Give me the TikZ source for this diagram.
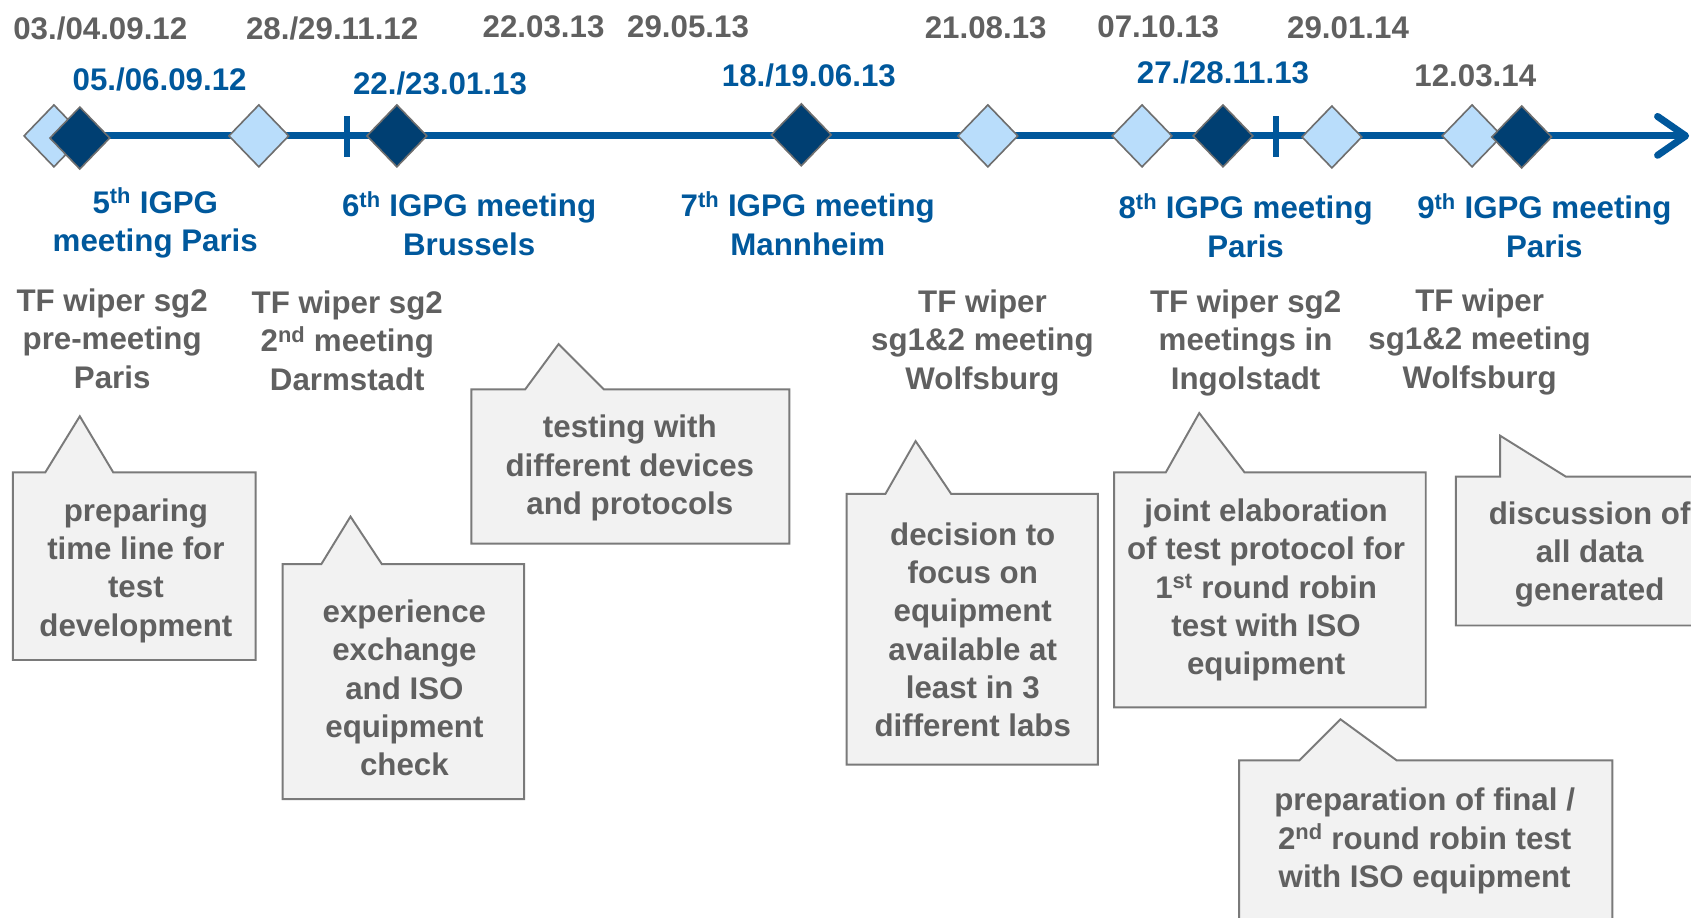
\documentclass[tikz,border=0pt]{standalone}
\usepackage{fontspec}
\setmainfont{Liberation Sans}
\usetikzlibrary{shapes.geometric,calc}

\definecolor{tlblue}{HTML}{00579B}
\definecolor{txtblue}{HTML}{00589C}
\definecolor{txtgray}{HTML}{606060}
\definecolor{darkdia}{HTML}{003F72}
\definecolor{lightdia}{HTML}{B9DDFB}
\definecolor{diaborder}{HTML}{6E6E6E}
\definecolor{bubfill}{HTML}{F2F2F2}
\definecolor{bubborder}{HTML}{7A7A7A}

\tikzset{
  txt/.style={font=\fontsize{29}{35.5}\selectfont\bfseries, align=center, inner sep=0pt, yshift=-2pt},
  graytxt/.style={txt, text=txtgray},
  bluetxt/.style={txt, text=txtblue},
  diabase/.style={diamond, draw=diaborder, line width=1.5pt, minimum width=56pt, minimum height=58pt, inner sep=0pt},
  ldia/.style={diabase, fill=lightdia},
  ddia/.style={diabase, fill=darkdia},
  timeline/.style={draw=tlblue, line width=6.5pt},
  tickmark/.style={draw=tlblue, line width=6pt},
  bubble/.style={draw=bubborder, fill=bubfill, line width=1.8pt, line join=miter},
}

\begin{document}
\begin{tikzpicture}[x=1pt, y=-1pt]
\useasboundingbox (0,0) rectangle (1568,851);
\clip (0,0) rectangle (1568,851);

% ---- time axis ----
\coordinate (tlstart) at (25,126);
\coordinate (tlend) at (1563,126);
\draw[timeline] (tlstart) -- (tlend);
\draw[timeline, line cap=round, line join=round]
  ($(tlend)+(-26,-18)$) -- (tlend) -- ($(tlend)+(-26,18)$);

\coordinate (ta1) at (322,108); \coordinate (tb1) at (322,146);
\coordinate (ta2) at (1183,108); \coordinate (tb2) at (1183,146);
\draw[tickmark] (ta1) -- (tb1);
\draw[tickmark] (ta2) -- (tb2);

% ---- milestones ----
\node[ldia] (m1) at (50,126) {};
\node[ddia] (m2) at (74,128) {};
\node[ldia] (m3) at (240,126) {};
\node[ddia] (m4) at (368,126) {};
\node[ddia] (m5) at (743,125) {};
\node[ldia] (m6) at (916,126) {};
\node[ldia] (m7) at (1059,126) {};
\node[ddia] (m8) at (1134,126) {};
\node[ldia] (m9) at (1235,127) {};
\node[ldia] (m10) at (1365,126) {};
\node[ddia] (m11) at (1411,127) {};

% ---- dates ----
\node[graytxt] (dt1) at (93,24) {03./04.09.12};
\node[graytxt] (dt2) at (308,24) {28./29.11.12};
\node[graytxt] (dt3) at (504,23) {22.03.13};
\node[graytxt] (dt4) at (638,23) {29.05.13};
\node[graytxt] (dt5) at (914,24) {21.08.13};
\node[graytxt] (dt6) at (1074,23) {07.10.13};
\node[graytxt] (dt7) at (1250,24) {29.01.14};

\node[bluetxt] (db1) at (148,72) {05./06.09.12};
\node[bluetxt] (db2) at (408,75) {22./23.01.13};
\node[bluetxt] (db3) at (750,68) {18./19.06.13};
\node[bluetxt] (db4) at (1134,65) {27./28.11.13};
\node[graytxt] (db5) at (1368,68) {12.03.14};

% ---- meetings ----
\node[bluetxt] (g5) at (144,205) {5\textsuperscript{th} IGPG\\meeting Paris};
\node[bluetxt] (g6) at (435,205) {6\textsuperscript{th} IGPG meeting\\Brussels};
\node[bluetxt] (g7) at (749,205) {7\textsuperscript{th} IGPG meeting\\Mannheim};
\node[bluetxt] (g8) at (1155,207) {8\textsuperscript{th} IGPG meeting\\Paris};
\node[bluetxt] (g9) at (1432,207) {9\textsuperscript{th} IGPG meeting\\Paris};

\node[graytxt] (w1) at (104,312) {TF wiper sg2\\pre-meeting\\Paris};
\node[graytxt] (w2) at (322,314) {TF wiper sg2\\2\textsuperscript{nd} meeting\\Darmstadt};
\node[graytxt] (w3) at (911,316) {TF wiper\\sg1\&2 meeting\\Wolfsburg};
\node[graytxt] (w4) at (1155,316) {TF wiper sg2\\meetings in\\Ingolstadt};
\node[graytxt] (w5) at (1372,315) {TF wiper\\sg1\&2 meeting\\Wolfsburg};

% ---- callouts ----
\path[bubble] (12,438) -- (42,438) -- (74,386) -- (105,438) -- (237,438)
  -- (237,612) -- (12,612) -- cycle;
\node[graytxt] (c1) at (126,527) {preparing\\time line for\\test\\development};

\path[bubble] (262,523) -- (298,523) -- (325,479) -- (354,523) -- (486,523)
  -- (486,741) -- (262,741) -- cycle;
\node[graytxt] (c2) at (375,636) {experience\\exchange\\and ISO\\equipment\\check};

\path[bubble] (437,361) -- (487,361) -- (518,319) -- (560,361) -- (732,361)
  -- (732,504) -- (437,504) -- cycle;
\node[graytxt] (c3) at (584,432) {testing with\\different devices\\and protocols};

\path[bubble] (785,458) -- (821,458) -- (849,409) -- (882,458) -- (1018,458)
  -- (1018,709) -- (785,709) -- cycle;
\node[graytxt] (c4) at (902,582) {decision to\\focus on\\equipment\\available at\\least in 3\\different labs};

\path[bubble] (1033,438) -- (1081,438) -- (1112,383) -- (1154,438) -- (1322,438)
  -- (1322,656) -- (1033,656) -- cycle;
\node[graytxt] (c5) at (1174,545) {joint elaboration\\of test protocol for\\1\textsuperscript{st} round robin\\test with ISO\\equipment};

\path[bubble] (1350,442) -- (1391,442) -- (1391,404) -- (1452,442) -- (1600,442)
  -- (1600,580) -- (1350,580) -- cycle;
\node[graytxt] (c6) at (1474,512) {discussion of\\all data\\generated};

\path[bubble] (1149,705) -- (1205,705) -- (1243,667) -- (1295,705) -- (1495,705)
  -- (1495,880) -- (1149,880) -- cycle;
\node[graytxt] (c7) at (1321,778) {preparation of final /\\2\textsuperscript{nd} round robin test\\with ISO equipment};

\end{tikzpicture}
\end{document}
